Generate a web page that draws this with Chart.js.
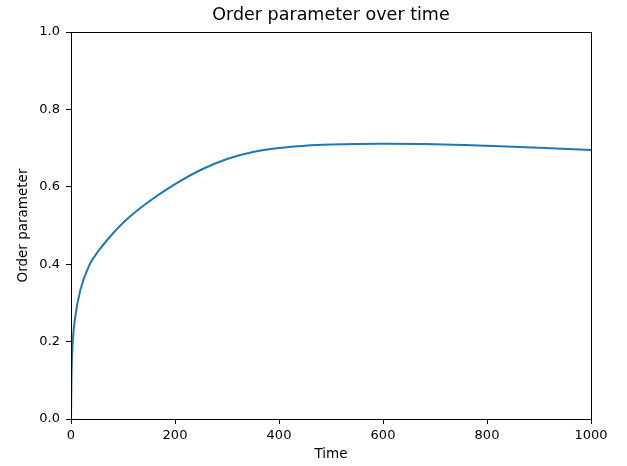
<!DOCTYPE html>
<html>
<head>
<meta charset="utf-8">
<script src="https://cdn.jsdelivr.net/npm/chart.js@4"></script>
<style>
  html, body { margin: 0; padding: 0; background: #fff; }
  #wrap { width: 627px; height: 466px; }
</style>
</head>
<body>
<div id="wrap"><canvas id="orderChart"></canvas></div>
<script>
// data
const times = [0, 1, 3, 8, 18, 35, 55, 75, 95, 115, 150, 200, 250, 300, 350, 400, 450, 500, 600, 700, 800, 900, 1000];
const orderValues = [0, 0.11, 0.19, 0.262, 0.333, 0.397, 0.438, 0.471, 0.5, 0.525, 0.562, 0.607, 0.644, 0.672, 0.69, 0.7, 0.706, 0.709, 0.711, 0.71, 0.706, 0.701, 0.695];
const xTicks = [0, 200, 400, 600, 800, 1000];
const yTicks = [0, 0.2, 0.4, 0.6, 0.8, 1.0];

const fontFam = "'DejaVu Sans', sans-serif";

// matplotlib style box around the axes
const frameBox = {
  id: "frameBox",
  afterDraw(chart) {
    const { ctx, chartArea: a } = chart;
    ctx.save();
    ctx.strokeStyle = "#000";
    ctx.lineWidth = 1;
    ctx.strokeRect(Math.round(a.left) + 0.5, Math.round(a.top) + 0.5,
      Math.round(a.right - a.left), Math.round(a.bottom - a.top));
    ctx.restore();
  },
};

const ctx = document.getElementById("orderChart").getContext("2d");
new Chart(ctx, {
  type: "line",
  data: {
    datasets: [
      {
        label: "Order parameter",
        data: times.map((t, i) => ({ x: t, y: orderValues[i] })),
        borderColor: "#1f77b4",
        borderWidth: 2,
        pointRadius: 0,
        fill: false,
        cubicInterpolationMode: "monotone",
      },
    ],
  },
  options: {
    responsive: true,
    maintainAspectRatio: false,
    animation: false,
    layout: { padding: { left: 0, right: 36, top: 0, bottom: 0 } },
    plugins: {
      legend: { display: false },
      tooltip: { enabled: false },
      title: {
        display: true,
        fullSize: false, // center over the plot area like matplotlib
        text: "Order parameter over time",
        color: "#000",
        font: { family: fontFam, size: 17.5, weight: "normal" },
        padding: { top: 4.5, bottom: 6.5 },
      },
    },
    scales: {
      x: {
        type: "linear",
        min: 0,
        max: 1000,
        afterBuildTicks: (s) => { s.ticks = xTicks.map((v) => ({ value: v })); },
        afterFit: (s) => { s.height = 47; },
        grid: { drawOnChartArea: false, color: "#000", tickLength: 5, tickColor: "#000" },
        border: { display: true, color: "#000" },
        ticks: {
          color: "#000",
          padding: 4,
          maxRotation: 0,
          font: { family: fontFam, size: 13 },
          callback: (v) => String(v),
        },
        title: {
          display: true,
          text: "Time",
          color: "#000",
          font: { family: fontFam, size: 13.5 },
          padding: { top: 4, bottom: 3 },
        },
      },
      y: {
        min: 0,
        max: 1,
        afterBuildTicks: (s) => { s.ticks = yTicks.map((v) => ({ value: v })); },
        afterFit: (s) => { s.width = 71; },
        grid: { drawOnChartArea: false, color: "#000", tickLength: 5, tickColor: "#000" },
        border: { display: true, color: "#000" },
        ticks: {
          color: "#000",
          padding: 6,
          font: { family: fontFam, size: 13 },
          callback: (v) => Number(v).toFixed(1),
        },
        title: {
          display: true,
          text: "Order parameter",
          color: "#000",
          font: { family: fontFam, size: 13.5 },
          padding: { top: 15, bottom: 4 },
        },
      },
    },
  },
  plugins: [frameBox],
});
</script>
</body>
</html>
